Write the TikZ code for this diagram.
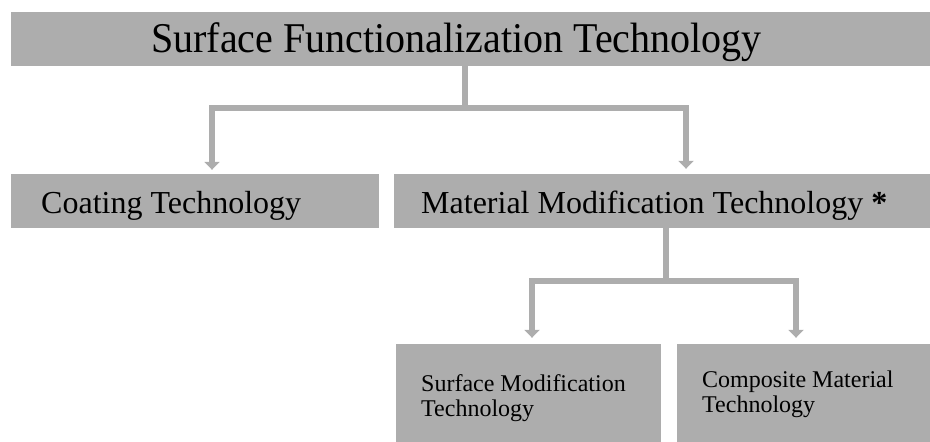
\documentclass[tikz,border=0pt]{standalone}
\usepackage{fontspec}
\usepackage{graphicx}
\setmainfont{Liberation Serif}
\usetikzlibrary{arrows.meta}
\definecolor{boxgray}{RGB}{173,173,173}
\tikzset{
  box/.style={fill=boxgray, draw=none, inner sep=0pt},
  label/.style={anchor=base west, inner sep=0pt, align=left},
  conn/.style={draw=boxgray, line width=6.5pt, line join=miter,
    -{Triangle[width=15pt,length=8pt]}},
  bigtext/.style={font=\fontsize{40}{46}\selectfont},
  midtext/.style={font=\fontsize{32}{38}\selectfont},
  smalltext/.style={font=\fontsize{24}{25}\selectfont}
}
\begin{document}
\begin{tikzpicture}[x=1pt,y=-1pt]
\useasboundingbox (0,0) rectangle (930,442);

% grey boxes
\node[box, minimum width=919pt, minimum height=54pt] (top)  at (470.5,39) {};
\node[box, minimum width=368pt, minimum height=54pt] (coat) at (195,201) {};
\node[box, minimum width=536pt, minimum height=54pt] (mat)  at (662,201) {};
\node[box, minimum width=265pt, minimum height=98pt] (surf) at (528.5,393) {};
\node[box, minimum width=253pt, minimum height=98pt] (comp) at (803.5,393) {};

% box texts
\node[label, bigtext] (toptxt) at (151,52)
  {\scalebox{1}[1.06]{Surface Functionalization Technology}};
\node[label, midtext] (coattxt) at (41,213) {Coating Technology};
\node[label, midtext] (mattxt) at (421,213)
  {Material Modification Technology \textbf{*}};
\node[label, smalltext, anchor=north west] (surftxt) at (421,374)
  {Surface Modification\\Technology};
\node[label, smalltext, anchor=north west] (comptxt) at (702,371)
  {Composite Material\\Technology};

% junctions of the branching connectors
\coordinate (s1) at (465,108);
\coordinate (b1) at (212,108);
\coordinate (b2) at (686,108);
\coordinate (s2) at (666,281);
\coordinate (b3) at (532,281);
\coordinate (b4) at (796,281);

\draw[conn, shorten >=4pt] (top.south -| s1) |- (b1) -- (b1 |- coat.north);
\draw[conn, shorten >=5pt] (top.south -| s1) |- (b2) -- (b2 |- mat.north);
\draw[conn, shorten >=6pt] (mat.south -| s2) |- (b3) -- (b3 |- surf.north);
\draw[conn, shorten >=6pt] (mat.south -| s2) |- (b4) -- (b4 |- comp.north);
\end{tikzpicture}
\end{document}
